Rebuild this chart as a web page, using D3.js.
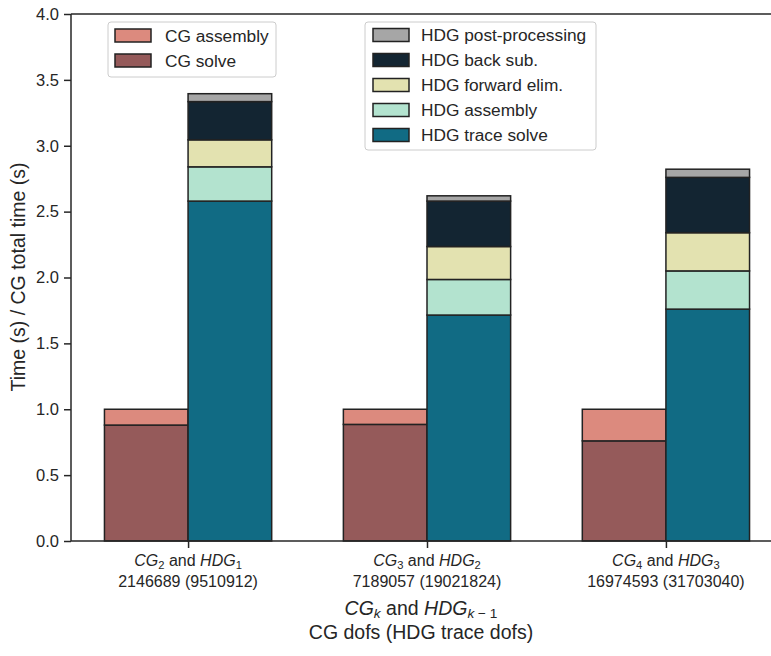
<!DOCTYPE html>
<html><head><meta charset="utf-8">
<script src="https://d3js.org/d3.v7.min.js"></script>
<style>body{margin:0;background:#fff}svg text{font-family:"Liberation Sans",Arial,sans-serif;fill:#262626}</style>
</head><body><svg id="c" width="771" height="656"></svg>
<script>
const categories = ["CG2/HDG1", "CG3/HDG2", "CG4/HDG3"];
const tickSub = [["2","1"],["3","2"],["4","3"]];
const tickDofs = ["2146689 (9510912)", "7189057 (19021824)", "16974593 (31703040)"];
const cgSolve = [0.88, 0.885, 0.76];
const cgAssembly = [0.12, 0.115, 0.24];
const hdgTrace = [2.58, 1.715, 1.76];
const hdgAssembly = [0.26, 0.27, 0.29];
const hdgForward = [0.205, 0.25, 0.29];
const hdgBack = [0.29, 0.345, 0.42];
const hdgPost = [0.06, 0.04, 0.062];
const yTicks = [0.0, 0.5, 1.0, 1.5, 2.0, 2.5, 3.0, 3.5, 4.0];

const cgSeries = [
  {name:"CG solve", vals:cgSolve, color:"#955a5a"},
  {name:"CG assembly", vals:cgAssembly, color:"#dc8a7e"}
];
const hdgSeries = [
  {name:"HDG trace solve", vals:hdgTrace, color:"#116b84"},
  {name:"HDG assembly", vals:hdgAssembly, color:"#b3e3cf"},
  {name:"HDG forward elim.", vals:hdgForward, color:"#e3e2b0"},
  {name:"HDG back sub.", vals:hdgBack, color:"#132532"},
  {name:"HDG post-processing", vals:hdgPost, color:"#a6a6a6"}
];

const svg = d3.select("#c");
const x = d3.scaleLinear().domain([-0.49, 2.49]).range([71, 783]);
const y = d3.scaleLinear().domain([0, 4]).range([541, 14]);
const bw = 0.35;
const axisColor = "#262626";
const tickFont = 16.5, xTickFont = 16, legFont = 17.3, labFont = 19.5;

function drawStack(series, offset) {
  const cum = categories.map(() => 0);
  series.forEach(s => {
    s.vals.forEach((v, i) => {
      const y0 = cum[i], y1 = cum[i] + v;
      cum[i] = y1;
      svg.append("rect")
        .attr("x", x(i + offset))
        .attr("width", x(i + offset + bw) - x(i + offset))
        .attr("y", y(y1))
        .attr("height", y(y0) - y(y1))
        .attr("fill", s.color)
        .attr("stroke", "#222")
        .attr("stroke-width", 1.5);
    });
  });
}
drawStack(cgSeries, -bw);
drawStack(hdgSeries, 0);

// axes
const yAxis = d3.axisLeft(y).tickValues(yTicks).tickFormat(d3.format(".1f")).tickSize(7).tickPadding(5);
const gy = svg.append("g").attr("transform", "translate(71,0)").call(yAxis);
gy.attr("font-family", null);
gy.selectAll(".tick text").attr("font-size", tickFont).attr("fill", axisColor);
gy.selectAll("line").attr("stroke", axisColor).attr("stroke-width", 1.5);
gy.select(".domain").remove();
const xAxis = d3.axisBottom(x).tickValues([0,1,2]).tickFormat("").tickSize(7);
const gx = svg.append("g").attr("transform", "translate(0,541)").call(xAxis);
gx.selectAll("line").attr("stroke", axisColor).attr("stroke-width", 1.5);
gx.select(".domain").remove();
// spines
svg.append("line").attr("x1",71).attr("x2",71).attr("y1",14).attr("y2",541).attr("stroke",axisColor).attr("stroke-width",1.5);
svg.append("line").attr("x1",71).attr("x2",783).attr("y1",541).attr("y2",541).attr("stroke",axisColor).attr("stroke-width",1.5);
svg.append("line").attr("x1",71).attr("x2",783).attr("y1",14).attr("y2",14).attr("stroke",axisColor).attr("stroke-width",1.5);

// x tick labels
categories.forEach((c, i) => {
  const t = svg.append("text").attr("x", x(i)).attr("y", 566).attr("text-anchor","middle").attr("font-size",xTickFont);
  t.append("tspan").attr("font-style","italic").text("CG");
  t.append("tspan").attr("font-size",xTickFont*0.7).attr("dy",3).text(tickSub[i][0]);
  t.append("tspan").attr("dy",-3).text(" and ");
  t.append("tspan").attr("font-style","italic").text("HDG");
  t.append("tspan").attr("font-size",xTickFont*0.7).attr("dy",3).text(tickSub[i][1]);
  svg.append("text").attr("x", x(i)).attr("y", 587).attr("text-anchor","middle").attr("font-size",xTickFont).text(tickDofs[i]);
});

// x label
const xl = svg.append("text").attr("x", 421).attr("y", 615).attr("text-anchor","middle").attr("font-size",labFont);
xl.append("tspan").attr("font-style","italic").text("CG");
xl.append("tspan").attr("font-style","italic").attr("font-size",labFont*0.7).attr("dy",3).text("k");
xl.append("tspan").attr("dy",-3).text(" and ");
xl.append("tspan").attr("font-style","italic").text("HDG");
xl.append("tspan").attr("font-size",labFont*0.7).attr("dy",3).attr("font-style","italic").text("k");
xl.append("tspan").attr("font-size",labFont*0.7).text(" \u2212 1");
svg.append("text").attr("x", 421).attr("y", 639).attr("text-anchor","middle").attr("font-size",labFont).text("CG dofs (HDG trace dofs)");

// y label
svg.append("text").attr("transform","translate(25,277) rotate(-90)").attr("text-anchor","middle").attr("font-size",labFont).text("Time (s) / CG total time (s)");

// legends
function legend(items, bx, by, bwid, bh, px, tx, y0) {
  svg.append("rect").attr("x",bx).attr("y",by).attr("width",bwid).attr("height",bh).attr("rx",3)
    .attr("fill","#fff").attr("fill-opacity",0.8).attr("stroke","#cccccc").attr("stroke-width",1);
  items.forEach((s, k) => {
    const cy = y0 + k * 25;
    svg.append("rect").attr("x",px).attr("y",cy-6.5).attr("width",36).attr("height",13)
      .attr("fill",s.color).attr("stroke","#222").attr("stroke-width",1.5);
    svg.append("text").attr("x",tx).attr("y",cy+6).attr("font-size",legFont).text(s.name);
  });
}
legend([cgSeries[1], cgSeries[0]], 108, 22, 168, 55, 115, 165, 35.5);
legend(hdgSeries.slice().reverse(), 365, 22, 231, 128, 373, 421, 35);
</script></body></html>
